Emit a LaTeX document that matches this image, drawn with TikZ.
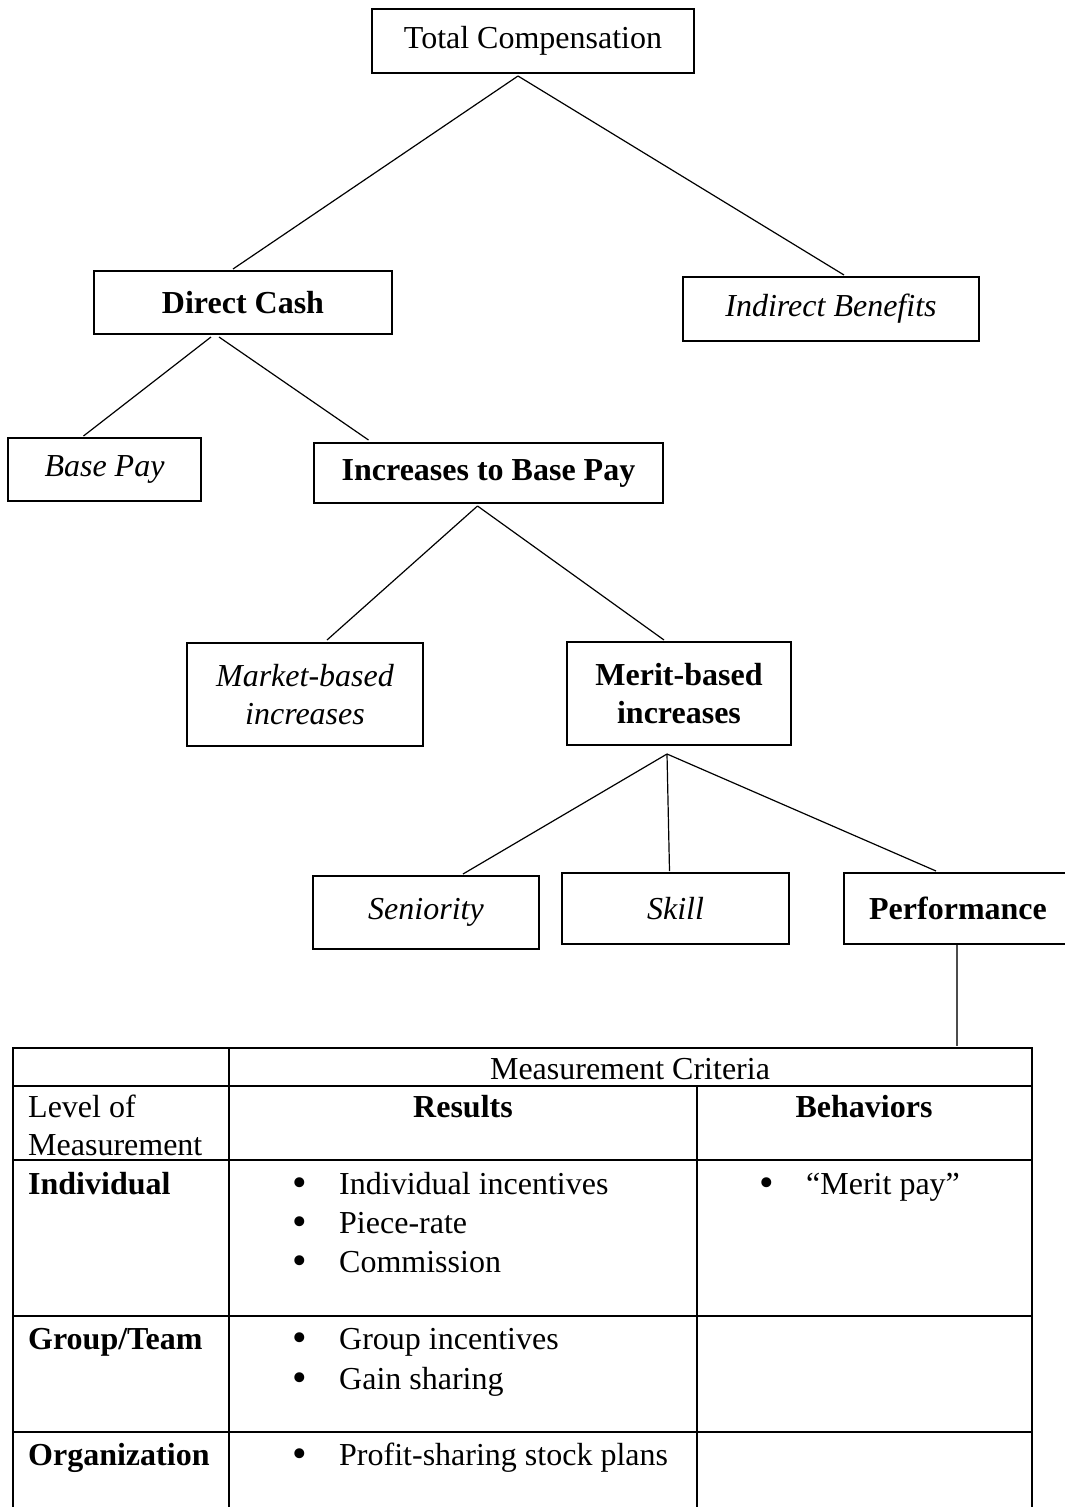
\documentclass[tikz,border=0pt]{standalone}
\usepackage{fontspec}
\usepackage{graphicx}
\setmainfont{Liberation Serif}
\newcommand{\bigbul}{\makebox[47pt][l]{\raisebox{-2pt}[0pt][0pt]{\scalebox{1.3}{\textbullet}}}}
\begin{document}
\begin{tikzpicture}[x=1pt,y=-1pt,
  font=\fontsize{32}{38.4}\selectfont,
  box/.style={draw=black,line width=2pt,rectangle,inner sep=0pt,align=center},
  conn/.style={draw=black,line width=1.2pt},
  grayconn/.style={draw=black!70,line width=1.6pt},
  tline/.style={draw=black,line width=2pt},
  txt/.style={inner sep=0pt,anchor=base west},
  ctxt/.style={inner sep=0pt,anchor=base}
]
\useasboundingbox (0,0) rectangle (1065,1507);
\clip (0,0) rectangle (1065,1507);

% boxes
\node[box,minimum width=322pt,minimum height=64pt] (total) at (533,41) {Total Compensation};
\node[box,minimum width=298pt,minimum height=63pt] (dc) at (243,302.5) {\textbf{Direct Cash}};
\node[box,minimum width=296pt,minimum height=64pt] (ib) at (831,309) {\textit{Indirect Benefits}};
\node[box,minimum width=193pt,minimum height=63pt] (bp) at (104.5,469.5) {\textit{Base Pay}};
\node[box,minimum width=349pt,minimum height=60pt] (inc) at (488.5,473) {\textbf{Increases to Base Pay}};
\node[box,minimum width=236pt,minimum height=103pt] (mkt) at (305,694.5) {\textit{Market-based}\\\textit{increases}};
\node[box,minimum width=224pt,minimum height=103pt] (mer) at (679,693.5) {\textbf{Merit-based}\\\textbf{increases}};
\node[box,minimum width=226pt,minimum height=73pt] (sen) at (426,912.5) {\textit{Seniority}};
\node[box,minimum width=227pt,minimum height=71pt] (skl) at (675.5,908.5) {\textit{Skill}};
\node[box,minimum width=228pt,minimum height=71pt] (perf) at (958,908.5) {\textbf{Performance}};

% connectors
\draw[conn] ([xshift=-15pt,yshift=-2pt]total.south) -- ([xshift=-10pt,yshift=1pt]dc.north);
\draw[conn] ([xshift=-15pt,yshift=-2pt]total.south) -- ([xshift=13pt,yshift=1pt]ib.north);
\draw[conn] ([xshift=-32pt,yshift=-2pt]dc.south) -- ([xshift=-21pt,yshift=1pt]bp.north);
\draw[conn] ([xshift=-24pt,yshift=-2pt]dc.south) -- ([xshift=-120pt,yshift=2pt]inc.north);
\draw[conn] ([xshift=-11pt,yshift=-2pt]inc.south) -- ([xshift=22pt,yshift=2pt]mkt.north);
\draw[conn] ([xshift=-11pt,yshift=-2pt]inc.south) -- ([xshift=-15pt,yshift=1pt]mer.north);
\draw[conn] ([xshift=-12pt,yshift=-8pt]mer.south) -- ([xshift=37pt,yshift=1pt]sen.north);
\draw[conn] ([xshift=-12pt,yshift=-8pt]mer.south) -- ([xshift=-6pt,yshift=1pt]skl.north);
\draw[conn] ([xshift=-12pt,yshift=-8pt]mer.south) -- ([xshift=-22pt,yshift=1pt]perf.north);

% table
\coordinate (ttop) at (957,1048);
\draw[grayconn] ([xshift=-1pt]perf.south) -- ([yshift=2pt]ttop);

\draw[tline] (13,1048) -- (1032,1048);
\draw[tline] (13,1086) -- (1032,1086);
\draw[tline] (13,1160) -- (1032,1160);
\draw[tline] (13,1316) -- (1032,1316);
\draw[tline] (13,1432) -- (1032,1432);
\draw[tline] (13,1047) -- (13,1512);
\draw[tline] (229,1047) -- (229,1512);
\draw[tline] (697,1086) -- (697,1512);
\draw[tline] (1032,1047) -- (1032,1512);

\node[ctxt] (mc) at (630,1079) {Measurement Criteria};
\node[txt] (lev1) at (28,1117) {Level of};
\node[txt] (lev2) at (28,1155) {Measurement};
\node[ctxt] (res) at (463,1117) {\textbf{Results}};
\node[ctxt] (beh) at (864,1117) {\textbf{Behaviors}};

\node[txt] (indiv) at (28,1194) {\textbf{Individual}};
\node[txt] (i1) at (292,1194) {\bigbul Individual incentives};
\node[txt] (i2) at (292,1233) {\bigbul Piece-rate};
\node[txt] (i3) at (292,1272) {\bigbul Commission};
\node[txt] (mp) at (759,1194) {\bigbul “Merit pay”};

\node[txt] (grp) at (28,1349) {\textbf{Group/Team}};
\node[txt] (g1) at (292,1349) {\bigbul Group incentives};
\node[txt] (g2) at (292,1389) {\bigbul Gain sharing};

\node[txt] (org) at (28,1465) {\textbf{Organization}};
\node[txt] (o1) at (292,1465) {\bigbul Profit-sharing stock plans};
\end{tikzpicture}
\end{document}
